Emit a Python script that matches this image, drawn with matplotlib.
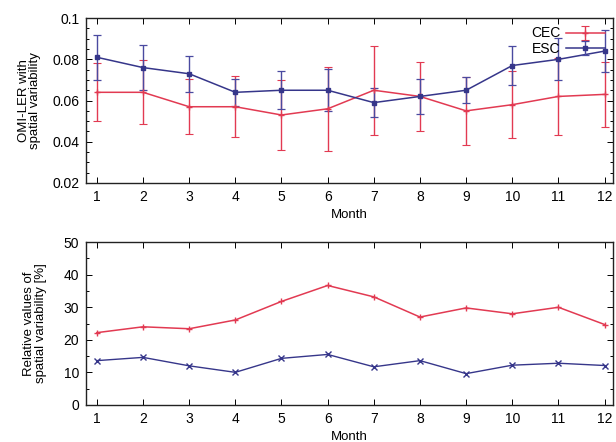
import numpy as np
import matplotlib.pyplot as plt
from matplotlib.ticker import MultipleLocator

plt.rcParams['font.family'] = ['Liberation Sans', 'DejaVu Sans']

months = np.arange(1, 13)

# OMI-LER com variabilidade espacial (media e desvio)
cec_ler = [0.064, 0.064, 0.057, 0.057, 0.053, 0.056, 0.065, 0.062, 0.055, 0.058, 0.062, 0.063]
cec_err = [0.014, 0.0155, 0.0134, 0.0149, 0.0169, 0.0205, 0.0215, 0.0167, 0.0164, 0.0162, 0.0186, 0.0156]
esc_ler = [0.081, 0.076, 0.073, 0.064, 0.065, 0.065, 0.059, 0.062, 0.065, 0.077, 0.080, 0.084]
esc_err = [0.011, 0.0111, 0.0088, 0.0064, 0.0093, 0.0101, 0.0069, 0.0084, 0.0062, 0.0094, 0.0102, 0.0102]

# valores relativos [%]
cec_rel = [22.2, 24.0, 23.4, 26.1, 31.8, 36.7, 33.2, 27.0, 29.8, 28.0, 30.0, 24.7]
esc_rel = [13.6, 14.6, 12.0, 10.0, 14.3, 15.5, 11.7, 13.6, 9.6, 12.2, 12.8, 12.1]

red = '#e23a52'
blue = '#36368a'

fig = plt.figure(figsize=(6.16, 4.42), dpi=100)
ax1 = fig.add_axes([0.140, 0.586, 0.855, 0.373])
ax2 = fig.add_axes([0.140, 0.084, 0.855, 0.368])

ax1.errorbar(months, cec_ler, yerr=cec_err, color=red, ecolor=red, elinewidth=1,
             capsize=3, capthick=0.8, marker='+', ms=5, lw=1.1, label='CEC')
ax1.errorbar(months, esc_ler, yerr=esc_err, color=blue, ecolor='#4a4aa0', elinewidth=1,
             capsize=3, capthick=0.9, marker='s', ms=3.5, lw=1.1, label='ESC')
ax1.set_ylim(0.02, 0.1)
ax1.set_yticks([0.02, 0.04, 0.06, 0.08, 0.1])
ax1.set_yticklabels(['0.02', '0.04', '0.06', '0.08', '0.1'])
ax1.yaxis.set_minor_locator(MultipleLocator(0.005))
ax1.set_ylabel('OMI-LER with\nspatial variability', fontsize=9.5, linespacing=0.95, labelpad=8)
ax1.legend(loc='upper right', frameon=False, markerfirst=False, handlelength=2.8,
           fontsize=10, borderaxespad=0.2, labelspacing=0.1, handletextpad=0.4)

ax2.plot(months, cec_rel, color=red, marker='+', ms=5, lw=1.1)
ax2.plot(months, esc_rel, color=blue, marker='x', ms=5, lw=1.0)
ax2.set_ylim(0, 50)
ax2.yaxis.set_minor_locator(MultipleLocator(5))
ax2.set_ylabel('Relative values of\nspatial variability [%]', fontsize=9.5, linespacing=0.95, labelpad=12)

for ax in (ax1, ax2):
    ax.set_xlim(0.77, 12.18)
    ax.set_xticks(months)
    ax.set_xlabel('Month', fontsize=9.5, labelpad=4)
    ax.tick_params(which='both', direction='in', top=True, right=True, labelsize=10, width=0.7)
    ax.tick_params(which='major', length=4, pad=5)
    ax.tick_params(which='minor', length=2)
    for s in ax.spines.values():
        s.set_linewidth(1.0)
        s.set_color('#222222')

plt.savefig('out.png', dpi=100)
